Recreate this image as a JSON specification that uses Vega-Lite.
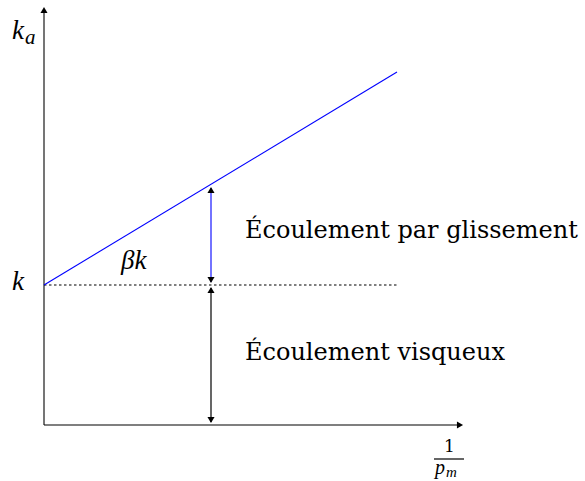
{
  "$schema": "https://vega.github.io/schema/vega-lite/v6.json",
  "width": 541,
  "height": 425,
  "autosize": "none",
  "padding": {"left": 44, "top": 0, "right": 0, "bottom": 56},
  "background": "white",
  "config": {"view": {"stroke": null}},
  "datasets": {
    "segs": [
      {"name": "yaxis", "x": 0, "y": 0, "x2": 0, "y2": 416},
      {"name": "xaxis", "x": 0, "y": 0, "x2": 417, "y2": 0},
      {"name": "trend", "x": 0, "y": 140, "x2": 353, "y2": 353},
      {"name": "ref", "x": 0, "y": 140, "x2": 353, "y2": 140},
      {"name": "visc", "x": 167, "y": 3, "x2": 167, "y2": 137},
      {"name": "slip", "x": 167, "y": 143, "x2": 167, "y2": 237},
      {"name": "frac", "x": 390, "y": -34, "x2": 420, "y2": -34}
    ],
    "heads": [
      {"dir": "up", "x": 0, "y": 415},
      {"dir": "right", "x": 416, "y": 0},
      {"dir": "down", "x": 167, "y": 5},
      {"dir": "up", "x": 167, "y": 135},
      {"dir": "down", "x": 167, "y": 145},
      {"dir": "up", "x": 167, "y": 235}
    ],
    "math": [
      {"t": "k", "role": "big", "x": -32, "y": 394},
      {"t": "a", "role": "sub", "x": -19, "y": 387},
      {"t": "k", "role": "big", "x": -32, "y": 143},
      {"t": "βk", "role": "big", "x": 77, "y": 164},
      {"t": "p", "role": "mid", "x": 391, "y": -43},
      {"t": "m", "role": "sub2", "x": 402, "y": -47}
    ],
    "labels": [
      {"t": "Écoulement par glissement", "x": 201, "y": 194},
      {"t": "Écoulement visqueux", "x": 201, "y": 72},
      {"t": "1", "x": 400, "y": -22}
    ]
  },
  "encoding": {
    "x": {"field": "x", "type": "quantitative", "scale": {"domain": [0, 541], "nice": false, "zero": false}, "axis": null},
    "y": {"field": "y", "type": "quantitative", "scale": {"domain": [0, 425], "nice": false, "zero": false}, "axis": null}
  },
  "layer": [
    {
      "data": {"name": "segs"},
      "transform": [{"filter": "datum.name === 'yaxis'"}],
      "mark": {"type": "rule", "color": "#666666", "strokeWidth": 1.8},
      "encoding": {"x2": {"field": "x2"}, "y2": {"field": "y2"}}
    },
    {
      "data": {"name": "segs"},
      "transform": [{"filter": "datum.name === 'xaxis' || datum.name === 'visc' || datum.name === 'frac'"}],
      "mark": {"type": "rule", "color": "black", "strokeWidth": 1.2},
      "encoding": {"x2": {"field": "x2"}, "y2": {"field": "y2"}}
    },
    {
      "data": {"name": "segs"},
      "transform": [{"filter": "datum.name === 'ref'"}],
      "mark": {"type": "rule", "color": "black", "strokeWidth": 1.1, "strokeDash": [2.5, 2.5]},
      "encoding": {"x2": {"field": "x2"}, "y2": {"field": "y2"}}
    },
    {
      "data": {"name": "segs"},
      "transform": [{"filter": "datum.name === 'trend' || datum.name === 'slip'"}],
      "mark": {"type": "rule", "color": "#0000ff", "strokeWidth": 1.1},
      "encoding": {"x2": {"field": "x2"}, "y2": {"field": "y2"}}
    },
    {
      "data": {"name": "heads"},
      "transform": [{"filter": "datum.dir === 'up'"}],
      "mark": {"type": "point", "shape": "triangle-up", "filled": true, "color": "black", "size": 50, "opacity": 1}
    },
    {
      "data": {"name": "heads"},
      "transform": [{"filter": "datum.dir === 'down'"}],
      "mark": {"type": "point", "shape": "triangle-down", "filled": true, "color": "black", "size": 50, "opacity": 1}
    },
    {
      "data": {"name": "heads"},
      "transform": [{"filter": "datum.dir === 'right'"}],
      "mark": {"type": "point", "shape": "triangle-right", "filled": true, "color": "black", "size": 50, "opacity": 1}
    },
    {
      "data": {"name": "math"},
      "transform": [{"filter": "datum.role === 'big'"}],
      "mark": {"type": "text", "font": "Liberation Serif", "fontStyle": "italic", "fontSize": 27, "align": "left", "baseline": "middle", "color": "black"},
      "encoding": {"text": {"field": "t"}}
    },
    {
      "data": {"name": "math"},
      "transform": [{"filter": "datum.role === 'sub'"}],
      "mark": {"type": "text", "font": "Liberation Serif", "fontStyle": "italic", "fontSize": 21, "align": "left", "baseline": "middle", "color": "black"},
      "encoding": {"text": {"field": "t"}}
    },
    {
      "data": {"name": "math"},
      "transform": [{"filter": "datum.role === 'mid'"}],
      "mark": {"type": "text", "font": "Liberation Serif", "fontStyle": "italic", "fontSize": 20, "align": "left", "baseline": "middle", "color": "black"},
      "encoding": {"text": {"field": "t"}}
    },
    {
      "data": {"name": "math"},
      "transform": [{"filter": "datum.role === 'sub2'"}],
      "mark": {"type": "text", "font": "Liberation Serif", "fontStyle": "italic", "fontSize": 15, "align": "left", "baseline": "middle", "color": "black"},
      "encoding": {"text": {"field": "t"}}
    },
    {
      "data": {"name": "labels"},
      "transform": [{"filter": "datum.t !== '1'"}],
      "mark": {"type": "text", "font": "DejaVu Serif", "fontSize": 24, "align": "left", "baseline": "middle", "color": "black"},
      "encoding": {"text": {"field": "t"}}
    },
    {
      "data": {"name": "labels"},
      "transform": [{"filter": "datum.t === '1'"}],
      "mark": {"type": "text", "font": "DejaVu Serif", "fontSize": 17, "align": "left", "baseline": "middle", "color": "black"},
      "encoding": {"text": {"field": "t"}}
    }
  ]
}
